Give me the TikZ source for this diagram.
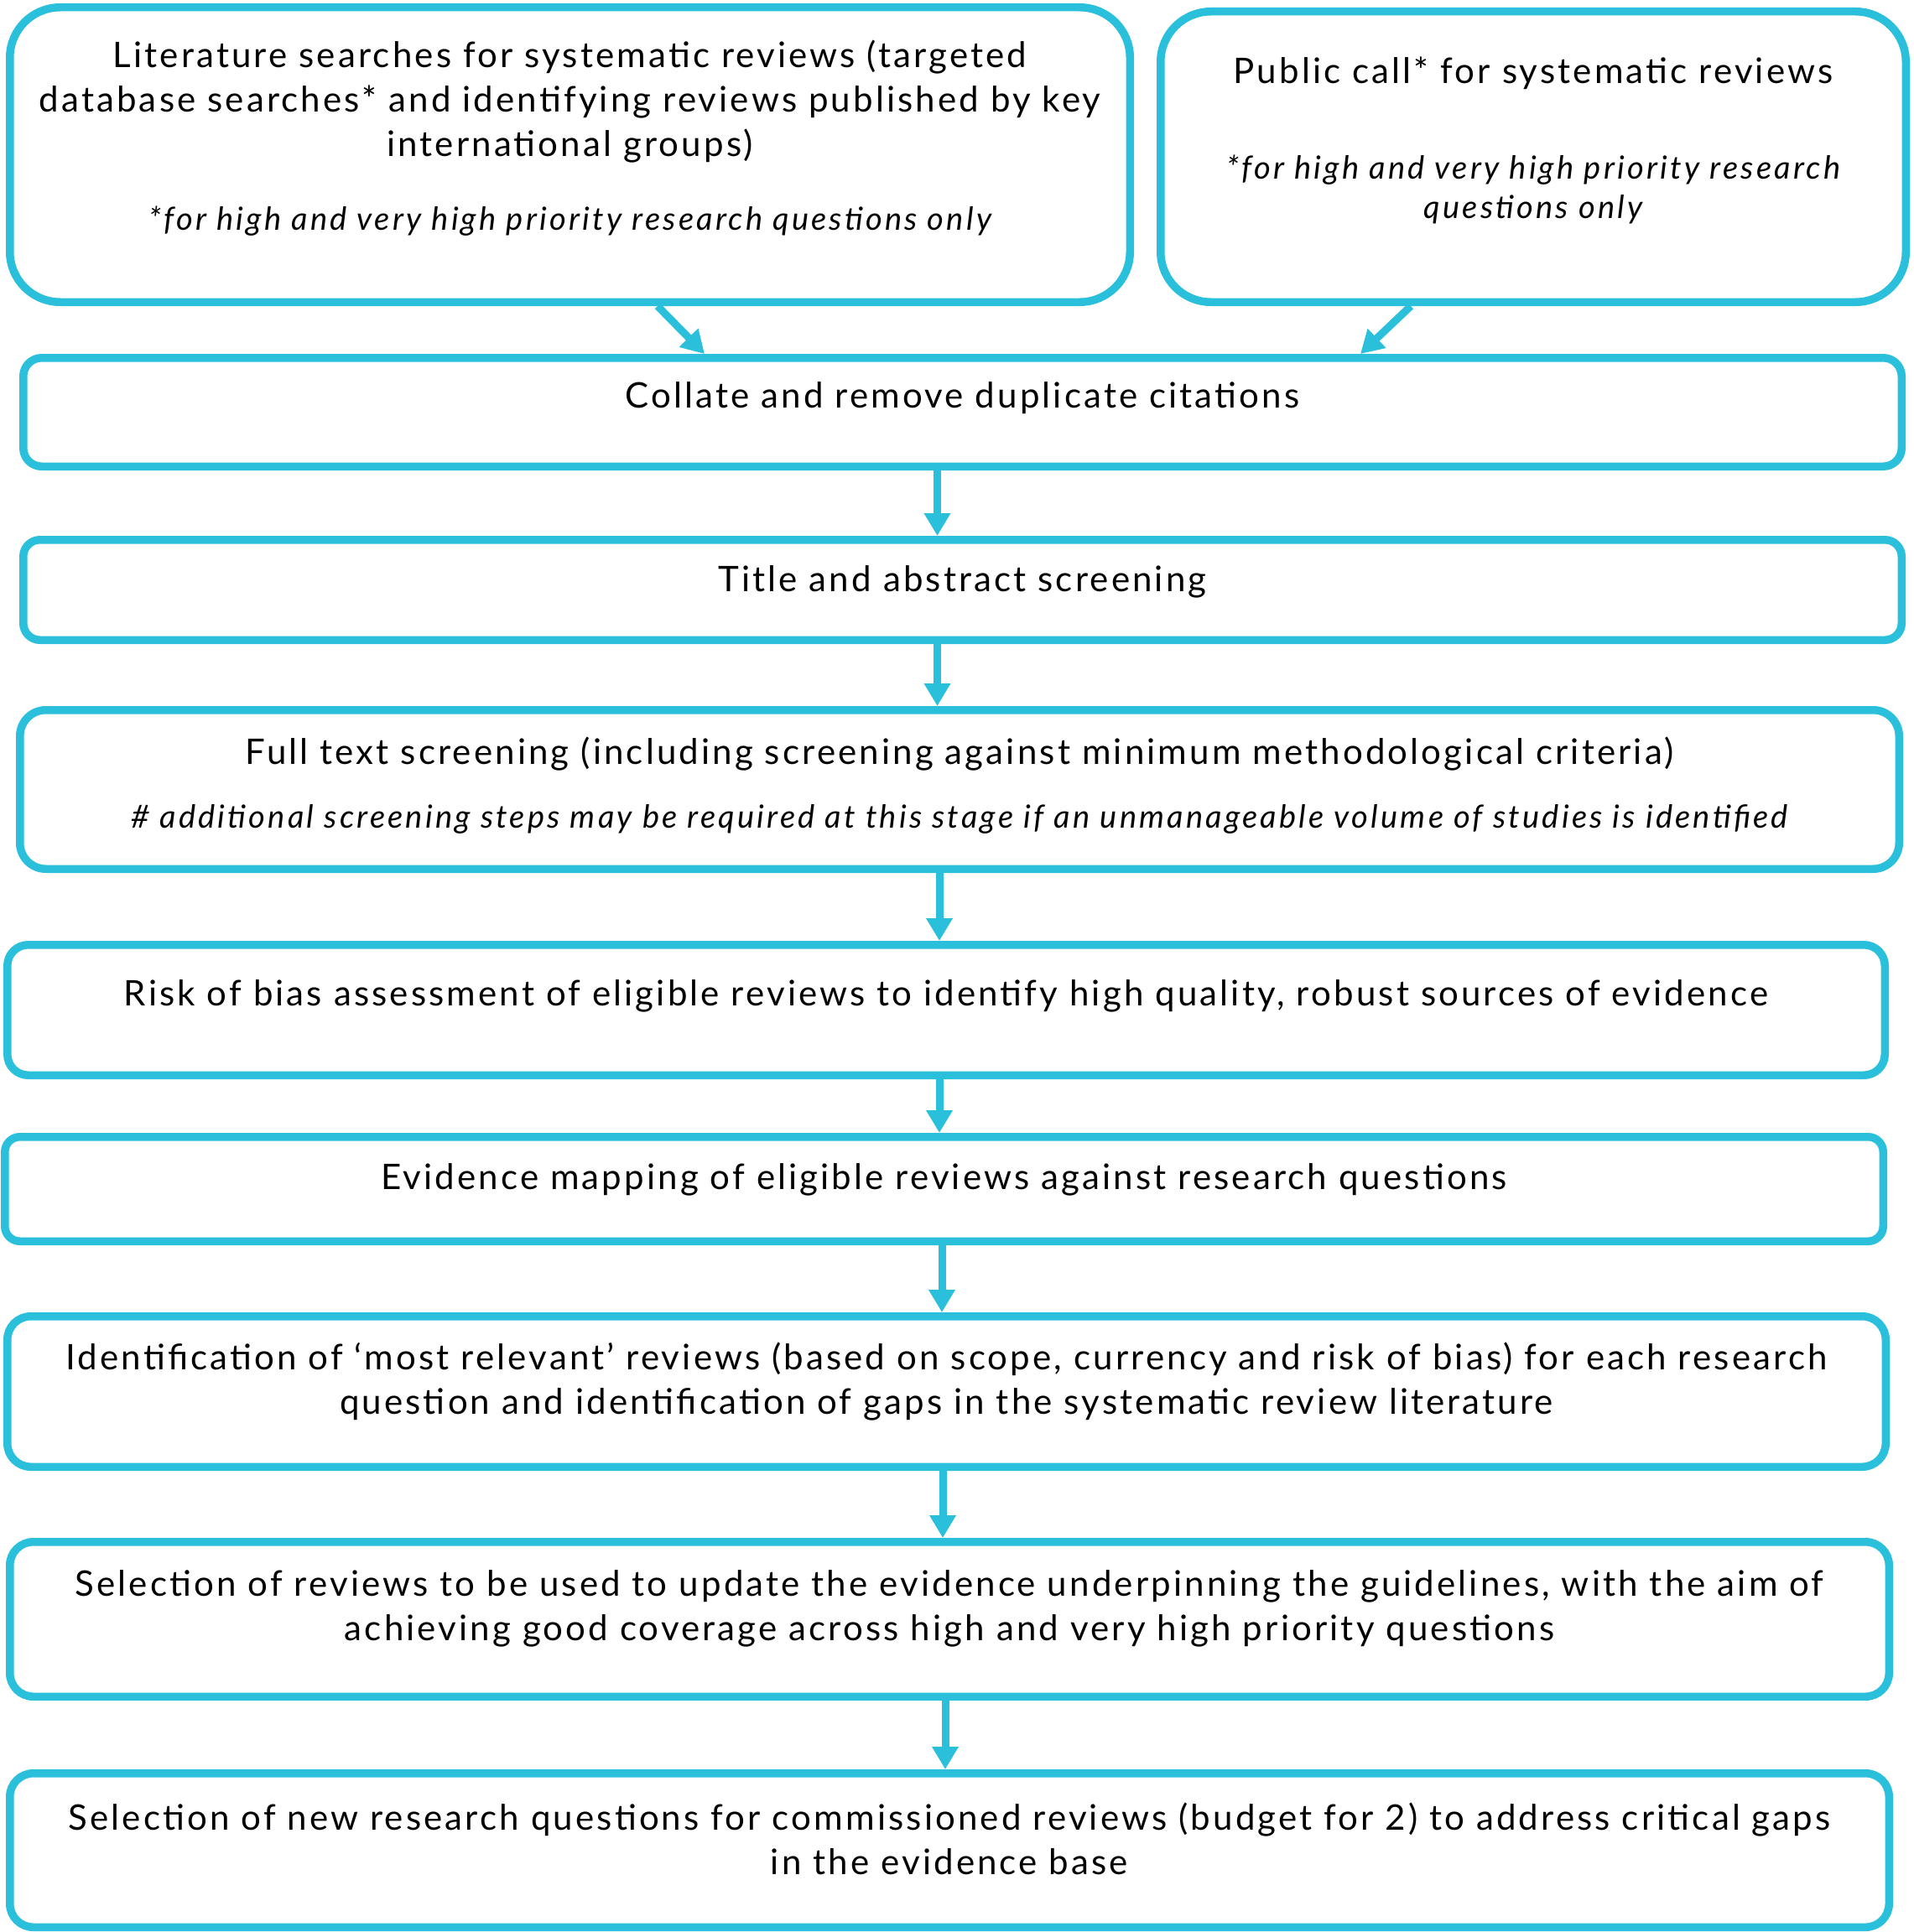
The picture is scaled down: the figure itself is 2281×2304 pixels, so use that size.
\documentclass[tikz,border=0pt]{standalone}
\usepackage{fontspec}
\setmainfont{Lato}[LetterSpace=7.5, ItalicFeatures={LetterSpace=8.5}]
\usetikzlibrary{arrows.meta}
\definecolor{flowcyan}{HTML}{2AC0DB}
\tikzset{
  stage/.style={draw=flowcyan, line width=9.5pt, rectangle},
  steptext/.style={anchor=base, align=center, inner sep=0pt, font=\fontsize{42}{53}\selectfont},
  notetext/.style={anchor=base, align=center, inner sep=0pt, font=\fontsize{38}{47}\selectfont\itshape},
  flow/.style={draw=flowcyan, line width=9pt, -{Triangle[width=30pt,length=27pt]}}
}
\begin{document}
\begin{tikzpicture}[x=1pt,y=-1pt]
\useasboundingbox (0,0) rectangle (2281,2304);
\node[stage, rounded corners=60pt, minimum width=1335.5pt, minimum height=351.5pt] (a) at (679.5,184.5) {};
\node[stage, rounded corners=60pt, minimum width=888.5pt, minimum height=346.5pt] (b) at (1828,187) {};
\node[stage, rounded corners=22pt, minimum width=2239.5pt, minimum height=129.5pt] (c) at (1147.5,491.5) {};
\node[stage, rounded corners=20pt, minimum width=2239.5pt, minimum height=119.5pt] (d) at (1147.5,703.5) {};
\node[stage, rounded corners=31pt, minimum width=2240.5pt, minimum height=189.5pt] (e) at (1144,941.5) {};
\node[stage, rounded corners=25pt, minimum width=2238.5pt, minimum height=155.5pt] (f) at (1128,1204.5) {};
\node[stage, rounded corners=18pt, minimum width=2239.5pt, minimum height=124.5pt] (g) at (1125.5,1418) {};
\node[stage, rounded corners=28pt, minimum width=2239.5pt, minimum height=179.5pt] (h) at (1128.5,1659.5) {};
\node[stage, rounded corners=28pt, minimum width=2240.5pt, minimum height=184.5pt] (i) at (1132,1931) {};
\node[stage, rounded corners=28pt, minimum width=2240.5pt, minimum height=183.5pt] (j) at (1132,2206.5) {};

% base = last line of each text
\node[steptext] (at) at (679.5,186) {Literature searches for systematic reviews (targeted\\database searches* and identifying reviews published by key\\international groups)};
\node[notetext] (an) at (679.5,274) {*for high and very high priority research questions only};
\node[steptext] (bt) at (1828,100) {Public call* for systematic reviews};
\node[notetext] (bn) at (1828,260) {*for high and very high priority research\\questions only};
\node[steptext] (ct) at (1147.5,486) {Collate and remove duplicate citations};
\node[steptext] (dt) at (1147.5,705) {Title and abstract screening};
\node[steptext] (et) at (1144,911) {Full text screening (including screening against minimum methodological criteria)};
\node[notetext] (en) at (1144,987) {\# additional screening steps may be required at this stage if an unmanageable volume of studies is identified};
\node[steptext] (ft) at (1128,1199) {Risk of bias assessment of eligible reviews to identify high quality, robust sources of evidence};
\node[steptext] (gt) at (1125.5,1418) {Evidence mapping of eligible reviews against research questions};
\node[steptext] (ht) at (1128.5,1686) {Identification of ‘most relevant’ reviews (based on scope, currency and risk of bias) for each research\\question and identification of gaps in the systematic review literature};
\node[steptext] (it) at (1132,1956) {Selection of reviews to be used to update the evidence underpinning the guidelines, with the aim of\\achieving good coverage across high and very high priority questions};
\node[steptext] (jt) at (1132,2235) {Selection of new research questions for commissioned reviews (budget for 2) to address critical gaps\\in the evidence base};

\draw[flow] ([xshift=104.5pt]a.south) -- ([xshift=-307.5pt]c.north);
\draw[flow] ([xshift=-146pt]b.south) -- ([xshift=474.5pt]c.north);
\foreach \from/\to/\dx in {c/d/-30, d/e/-30, e/f/-24, f/g/-8, g/h/-2.5, h/i/-4.5, i/j/-5}
  \draw[flow] ([xshift=\dx pt]\from.south) -- ([xshift=\dx pt]\from.south |- \to.north);
\end{tikzpicture}
\end{document}
